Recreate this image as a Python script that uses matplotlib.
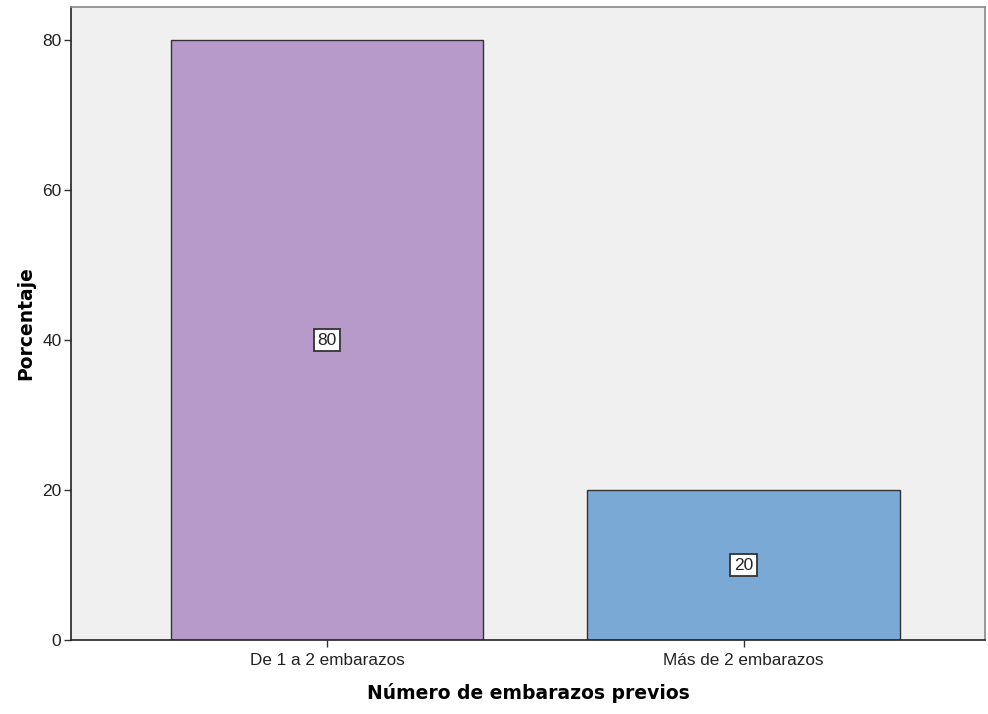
import matplotlib
matplotlib.use("Agg")
import matplotlib.pyplot as plt

# ── data ──────────────────────────────────────────────────────────────────────
categories = ["De 1 a 2 embarazos", "Más de 2 embarazos"]
percentages = [80, 20]
bar_colors = ["#b79ac9", "#7ba9d5"]

plt.rcParams["font.family"] = ["Liberation Sans", "DejaVu Sans"]

fig = plt.figure(figsize=(9.88, 7.14), dpi=100)
ax = fig.add_axes([0.072, 0.1036, 0.925, 0.8866])
ax.set_facecolor("#f0f0f0")

x = list(range(len(categories)))
ax.bar(x, percentages, width=0.75, color=bar_colors,
       edgecolor="#333333", linewidth=1.0, zorder=2)

# value labels in the middle of each bar
for xi, v in zip(x, percentages):
    ax.text(xi, v / 2, f"{v}", ha="center", va="center", fontsize=12.5,
            color="#222222",
            bbox=dict(boxstyle="square,pad=0.2", facecolor="white",
                      edgecolor="#333333", linewidth=1.3), zorder=3)

ax.set_xlim(-0.615, 1.58)
ax.set_ylim(0, 84.4)
ax.set_xticks(x)
ax.set_xticklabels(categories, fontsize=12.3)
ax.set_yticks([0, 20, 40, 60, 80])
ax.tick_params(axis="both", direction="out", length=5, width=1.0,
               color="#333333", labelcolor="#222222")
ax.tick_params(axis="y", labelsize=12.5, pad=2)
ax.tick_params(axis="x", pad=4)

for side in ["left", "bottom"]:
    ax.spines[side].set_color("#222222")
    ax.spines[side].set_linewidth(1.2)
for side in ["top", "right"]:
    ax.spines[side].set_color("#888888")
    ax.spines[side].set_linewidth(1.2)

ax.set_xlabel("Número de embarazos previos", fontsize=13.5, fontweight="bold",
              family="DejaVu Sans", labelpad=11)
ax.set_ylabel("Porcentaje", fontsize=13.5, fontweight="bold",
              family="DejaVu Sans", labelpad=5)

fig.savefig("out.png", dpi=100)
